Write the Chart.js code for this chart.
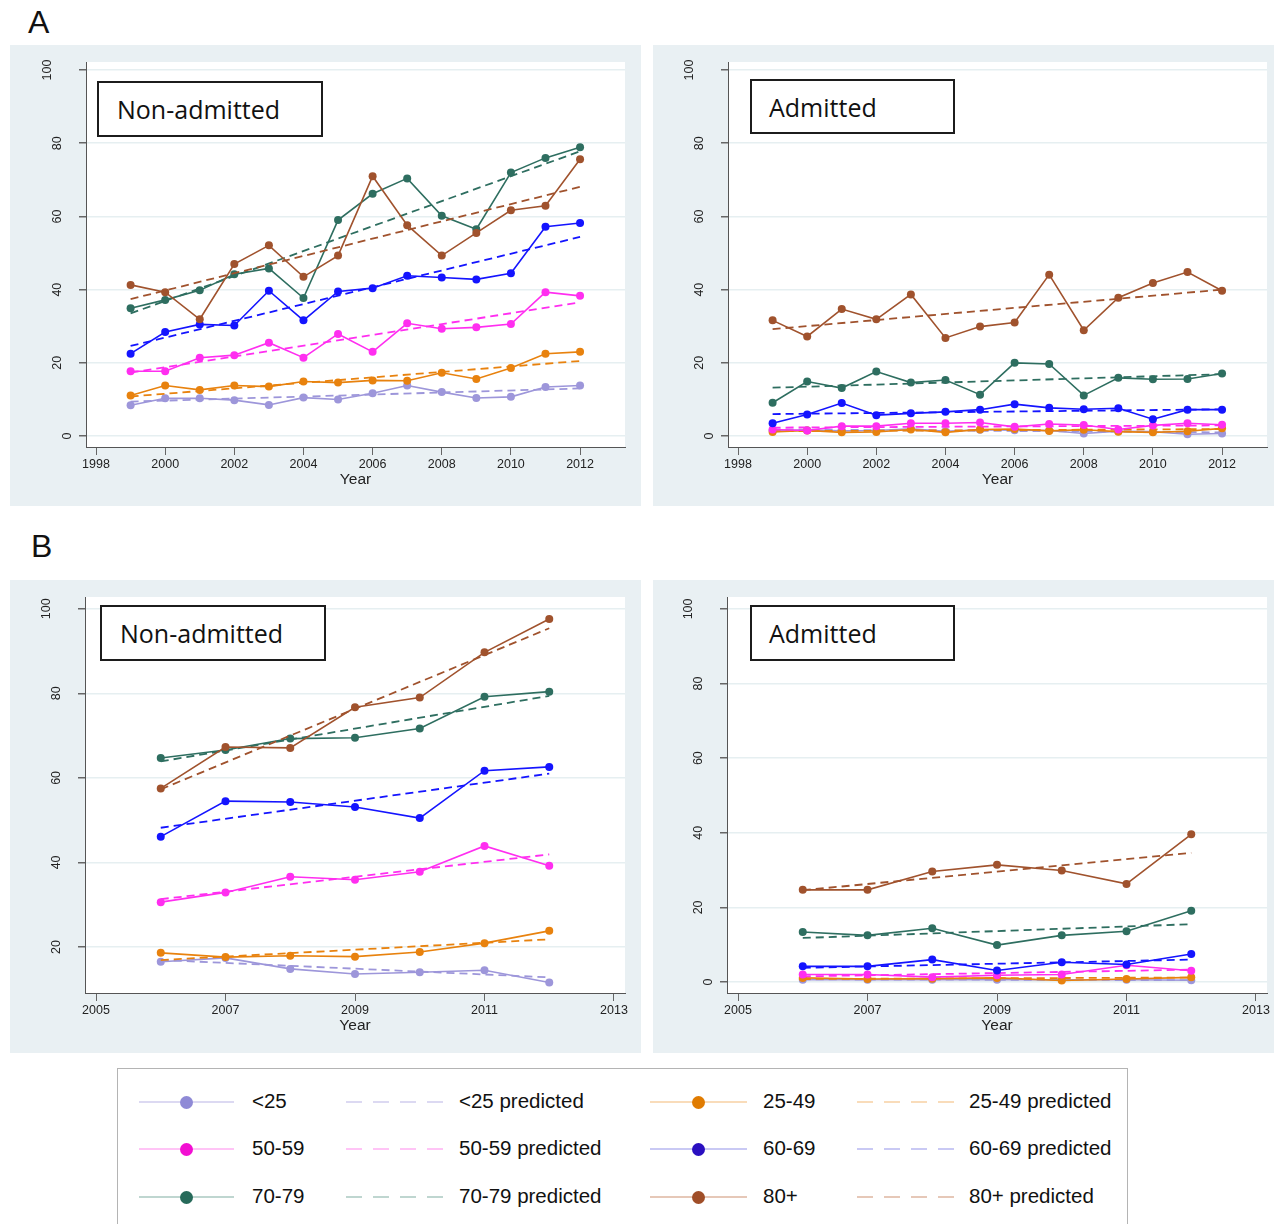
<!DOCTYPE html>
<html>
<head>
<meta charset="utf-8">
<title>Rates by age group</title>
<script src="https://cdn.jsdelivr.net/npm/chart.js@4.4.1/dist/chart.umd.min.js"></script>
<style>
  body { margin: 0; width: 1274px; height: 1224px; position: relative; overflow: hidden; background: #fff;
         font-family: "Liberation Sans", Arial, sans-serif; }
  .panel { position: absolute; background: #e9f0f3; }
  .panel canvas { position: absolute; left: 0; top: 0; }
  .letter { position: absolute; font-size: 32px; color: #111; line-height: 1; }
  .tag { position: absolute; box-sizing: border-box; border: 2px solid #1c1c1c; background: #fff;
         font-family: "Open Sans", sans-serif; font-size: 25px; color: #111; display: flex; align-items: center; }
  .legend { position: absolute; left: 117px; top: 1068px; width: 1011px; height: 170px; box-sizing: border-box;
            border: 1px solid #b4b4b4; background: #fff; }
  .lg-line { position: absolute; height: 2px; }
  .lg-dot { position: absolute; width: 13px; height: 13px; border-radius: 50%; }
  .lg-text { position: absolute; font-size: 20.5px; color: #111; line-height: 1; }
</style>
</head>
<body>
<div class="letter" style="left:28px;top:6px">A</div>
<div class="letter" style="left:31px;top:530px">B</div>

<div class="panel" style="left:10px;top:45px;width:631px;height:461px"><canvas id="cA1" width="631" height="461"></canvas></div>
<div class="panel" style="left:653px;top:45px;width:621px;height:461px"><canvas id="cA2" width="621" height="461"></canvas></div>
<div class="panel" style="left:10px;top:580px;width:631px;height:473px"><canvas id="cB1" width="631" height="473"></canvas></div>
<div class="panel" style="left:653px;top:580px;width:621px;height:473px"><canvas id="cB2" width="621" height="473"></canvas></div>

<div class="tag" style="left:97px;top:81px;width:226px;height:56px;padding-left:18px">Non-admitted</div>
<div class="tag" style="left:750px;top:79px;width:205px;height:55px;padding-left:17px">Admitted</div>
<div class="tag" style="left:100px;top:605px;width:226px;height:56px;padding-left:18px">Non-admitted</div>
<div class="tag" style="left:750px;top:605px;width:205px;height:56px;padding-left:17px">Admitted</div>

<div class="legend" id="legend"></div>

<script>
// ---- data ----
const groups = ["<25", "25-49", "50-59", "60-69", "70-79", "80+"];
const yearsA = [1999, 2000, 2001, 2002, 2003, 2004, 2005, 2006, 2007, 2008, 2009, 2010, 2011, 2012];
const yearsB = [2006, 2007, 2008, 2009, 2010, 2011, 2012];
const xTicksA = [1998, 2000, 2002, 2004, 2006, 2008, 2010, 2012];
const xTicksB = [2005, 2007, 2009, 2011, 2013];
const yTicksA = [0, 20, 40, 60, 80, 100];
const yTicksB1 = [20, 40, 60, 80, 100];
const yTicksB2 = [0, 20, 40, 60, 80, 100];

// A, non-admitted
const aNonLt25 = [8.4, 10.3, 10.3, 9.8, 8.5, 10.5, 10.0, 11.7, 13.8, 12.0, 10.4, 10.7, 13.4, 13.8];
const aNon2549 = [11.1, 13.8, 12.6, 13.8, 13.5, 14.9, 14.6, 15.2, 15.1, 17.3, 15.6, 18.6, 22.5, 23.0];
const aNon5059 = [17.7, 17.7, 21.4, 22.1, 25.5, 21.4, 27.9, 23.0, 30.8, 29.3, 29.7, 30.6, 39.3, 38.3];
const aNon6069 = [22.5, 28.4, 30.5, 30.2, 39.7, 31.6, 39.5, 40.4, 43.8, 43.3, 42.8, 44.5, 57.2, 58.2];
const aNon7079 = [34.9, 37.2, 39.8, 44.2, 45.8, 37.7, 59.0, 66.2, 70.4, 60.2, 56.5, 72.0, 76.0, 78.9];
const aNon80 = [41.3, 39.3, 31.9, 47.0, 52.1, 43.5, 49.3, 71.0, 57.6, 49.3, 55.5, 61.7, 62.9, 75.6];
// predicted (first year, last year)
const aNonPredLt25 = [9.4, 13.0];
const aNonPred2549 = [10.8, 20.5];
const aNonPred5059 = [17.3, 36.5];
const aNonPred6069 = [24.6, 54.4];
const aNonPred7079 = [33.5, 77.8];
const aNonPred80 = [37.4, 68.1];

// A, admitted
const aAdmLt25 = [1.5, 1.6, 1.4, 1.5, 2.0, 1.3, 1.7, 1.6, 1.5, 0.7, 1.3, 1.2, 0.5, 0.7];
const aAdm2549 = [1.1, 1.5, 1.0, 1.1, 1.8, 1.0, 1.8, 1.9, 1.4, 1.7, 1.2, 1.0, 1.3, 2.1];
const aAdm5059 = [1.8, 1.5, 2.7, 2.7, 3.5, 3.5, 3.7, 2.5, 3.3, 3.0, 1.8, 2.9, 3.5, 3.1];
const aAdm6069 = [3.5, 5.9, 9.0, 5.7, 6.2, 6.6, 7.2, 8.7, 7.7, 7.3, 7.6, 4.6, 7.2, 7.2];
const aAdm7079 = [9.1, 14.9, 13.1, 17.6, 14.6, 15.3, 11.3, 20.0, 19.7, 11.1, 15.9, 15.5, 15.6, 17.1];
const aAdm80 = [31.6, 27.2, 34.7, 31.9, 38.7, 26.8, 29.9, 31.0, 44.1, 28.9, 37.8, 41.8, 44.8, 39.7];
const aAdmPredLt25 = [1.8, 1.0];
const aAdmPred2549 = [1.3, 1.9];
const aAdmPred5059 = [2.3, 2.9];
const aAdmPred6069 = [6.0, 7.3];
const aAdmPred7079 = [13.2, 16.9];
const aAdmPred80 = [29.2, 40.0];

// B, non-admitted
const bNonLt25 = [16.5, 17.4, 14.8, 13.6, 14.0, 14.5, 11.6];
const bNon2549 = [18.6, 17.6, 17.9, 17.7, 18.8, 20.9, 23.8];
const bNon5059 = [30.6, 32.9, 36.6, 35.9, 37.8, 43.9, 39.2];
const bNon6069 = [46.1, 54.5, 54.3, 53.1, 50.5, 61.7, 62.6];
const bNon7079 = [64.7, 66.6, 69.3, 69.5, 71.7, 79.2, 80.4];
const bNon80 = [57.5, 67.3, 67.1, 76.7, 79.0, 89.7, 97.6];
const bNonPredLt25 = [16.9, 12.8];
const bNonPred2549 = [16.9, 21.8];
const bNonPred5059 = [31.3, 41.9];
const bNonPred6069 = [48.2, 61.0];
const bNonPred7079 = [63.9, 79.4];
const bNonPred80 = [57.3, 95.4];

// B, admitted
const bAdmLt25 = [0.6, 0.6, 0.6, 0.6, 0.6, 0.6, 0.45];
const bAdm2549 = [1.1, 0.8, 0.9, 1.1, 0.4, 0.8, 1.25];
const bAdm5059 = [2.0, 2.0, 1.3, 1.8, 2.0, 4.5, 3.0];
const bAdm6069 = [4.2, 4.2, 6.0, 3.1, 5.3, 4.7, 7.5];
const bAdm7079 = [13.4, 12.5, 14.4, 9.9, 12.5, 13.6, 19.1];
const bAdm80 = [24.7, 24.7, 29.6, 31.4, 29.9, 26.3, 39.6];
const bAdmPredLt25 = [0.7, 0.5];
const bAdmPred2549 = [0.8, 1.2];
const bAdmPred5059 = [1.5, 3.3];
const bAdmPred6069 = [3.8, 6.0];
const bAdmPred7079 = [11.8, 15.5];
const bAdmPred80 = [24.6, 34.6];

// ---- styles ----
const lineColors = ["#9d96da", "#e8820e", "#ff2ef0", "#1414ff", "#2e6e60", "#a0522d"];
const legendDots = ["#8f8ad6", "#e07b00", "#f20fd2", "#2a0fc0", "#276a5a", "#a04e28"];
const legendFaint = ["#dcd9f2", "#f9dcba", "#ffc4f6", "#c9c9f4", "#bfd6d0", "#e6c8b8"];

function buildDatasets(years, solid, pred) {
  const ds = [];
  const n = groups.length * 2;
  groups.forEach((g, i) => {
    ds.push({
      label: g,
      data: years.map((x, k) => ({ x: x, y: solid[i][k] })),
      borderColor: lineColors[i],
      backgroundColor: lineColors[i],
      borderWidth: 1.6,
      pointRadius: 4,
      pointBorderWidth: 0,
      pointBackgroundColor: lineColors[i],
      order: n - 2 * i
    });
    ds.push({
      label: g + " predicted",
      data: [{ x: years[0], y: pred[i][0] }, { x: years[years.length - 1], y: pred[i][1] }],
      borderColor: lineColors[i],
      borderWidth: 1.8,
      borderDash: [8, 5],
      pointRadius: 0,
      order: n - 2 * i - 1
    });
  });
  return ds;
}

// white plot region + rotated y labels
const plotPlugin = {
  id: "plotPlugin",
  beforeDraw(chart) {
    const a = chart.chartArea, ctx = chart.ctx;
    ctx.save();
    ctx.fillStyle = "#ffffff";
    ctx.fillRect(a.left, a.top, a.right - a.left, a.bottom - a.top);
    ctx.restore();
  },
  afterDraw(chart) {
    const ys = chart.scales.y, ctx = chart.ctx;
    ctx.save();
    ctx.fillStyle = "#222";
    ctx.font = '12.5px "Liberation Sans", Arial, sans-serif';
    ctx.textAlign = "center";
    ctx.textBaseline = "middle";
    ys.ticks.forEach(t => {
      const s = String(t.value);
      const px = ys.right - 18 - 10 * (s.length - 1);
      const py = ys.getPixelForValue(t.value);
      ctx.save();
      ctx.translate(px, py);
      ctx.rotate(-Math.PI / 2);
      ctx.fillText(s, 0, 0);
      ctx.restore();
    });
    ctx.restore();
  }
};

function makeChart(id, panel, area, xr, yr, xTicks, yTicks, years, solid, pred) {
  const xAxisH = 46;
  new Chart(document.getElementById(id), {
    type: "line",
    data: { datasets: buildDatasets(years, solid, pred) },
    options: {
      responsive: false,
      animation: false,
      devicePixelRatio: 1,
      layout: {
        padding: {
          left: 0,
          top: area[1] - panel[1],
          right: panel[0] + panel[2] - area[2],
          bottom: panel[1] + panel[3] - area[3] - xAxisH
        }
      },
      plugins: { legend: { display: false }, tooltip: { enabled: false } },
      scales: {
        x: {
          type: "linear",
          min: xr[0], max: xr[1],
          afterBuildTicks: s => { s.ticks = xTicks.map(v => ({ value: v })); },
          afterFit: s => { s.height = xAxisH; },
          grid: { drawOnChartArea: false, tickLength: 8, tickColor: "#666" },
          border: { color: "#555", width: 1 },
          ticks: {
            color: "#222", padding: 2, maxRotation: 0,
            font: { family: '"Liberation Sans", Arial, sans-serif', size: 12.5 },
            callback: v => String(v)
          },
          title: {
            display: true, text: "Year", color: "#222", padding: { top: 0, bottom: 4 },
            font: { family: '"Liberation Sans", Arial, sans-serif', size: 15.5 }
          }
        },
        y: {
          min: yr[0], max: yr[1],
          afterBuildTicks: s => { s.ticks = yTicks.map(v => ({ value: v })); },
          afterFit: s => { s.width = area[0] - panel[0]; },
          grid: { color: "#e6eff1", lineWidth: 1.5, tickLength: 7, tickColor: "#666" },
          border: { color: "#555", width: 1 },
          ticks: { display: false }
        }
      }
    },
    plugins: [plotPlugin]
  });
}

makeChart("cA1", [10, 45, 631, 461], [86, 62, 625, 447], [1997.71, 2013.3], [-3, 102.2], xTicksA, yTicksA, yearsA,
  [aNonLt25, aNon2549, aNon5059, aNon6069, aNon7079, aNon80],
  [aNonPredLt25, aNonPred2549, aNonPred5059, aNonPred6069, aNonPred7079, aNonPred80]);
makeChart("cA2", [653, 45, 621, 461], [728, 62, 1267, 447], [1997.71, 2013.3], [-3, 102.2], xTicksA, yTicksA, yearsA,
  [aAdmLt25, aAdm2549, aAdm5059, aAdm6069, aAdm7079, aAdm80],
  [aAdmPredLt25, aAdmPred2549, aAdmPred5059, aAdmPred6069, aAdmPred7079, aAdmPred80]);
makeChart("cB1", [10, 580, 631, 473], [85, 597, 625, 993], [2004.83, 2013.17], [9.1, 102.8], xTicksB, yTicksB1, yearsB,
  [bNonLt25, bNon2549, bNon5059, bNon6069, bNon7079, bNon80],
  [bNonPredLt25, bNonPred2549, bNonPred5059, bNonPred6069, bNonPred7079, bNonPred80]);
makeChart("cB2", [653, 580, 621, 473], [727, 597, 1267, 993], [2004.83, 2013.17], [-2.95, 103.2], xTicksB, yTicksB2, yearsB,
  [bAdmLt25, bAdm2549, bAdm5059, bAdm6069, bAdm7079, bAdm80],
  [bAdmPredLt25, bAdmPred2549, bAdmPred5059, bAdmPred6069, bAdmPred7079, bAdmPred80]);

// ---- legend (3 rows x 4 columns) ----
const legend = document.getElementById("legend");
const rowY = [33, 80, 128];
const colX = [[21, 116, 134], [228, 325, 341], [532, 629, 645], [739, 836, 851]];
groups.forEach((g, i) => {
  const row = Math.floor(i / 2);
  const pair = (i % 2) * 2;
  const cy = rowY[row];
  // solid entry
  const c1 = colX[pair];
  const l1 = document.createElement("div");
  l1.className = "lg-line";
  l1.style.cssText = `left:${c1[0]}px;top:${cy - 1}px;width:${c1[1] - c1[0]}px;background:${legendFaint[i]}`;
  legend.appendChild(l1);
  const d = document.createElement("div");
  d.className = "lg-dot";
  d.style.cssText = `left:${(c1[0] + c1[1]) / 2 - 6.5}px;top:${cy - 6.5}px;background:${legendDots[i]}`;
  legend.appendChild(d);
  const t1 = document.createElement("div");
  t1.className = "lg-text";
  t1.style.cssText = `left:${c1[2]}px;top:${cy - 11}px`;
  t1.textContent = g;
  legend.appendChild(t1);
  // predicted entry
  const c2 = colX[pair + 1];
  const l2 = document.createElement("div");
  l2.className = "lg-line";
  l2.style.cssText = `left:${c2[0]}px;top:${cy - 1}px;width:${c2[1] - c2[0]}px;` +
    `background:repeating-linear-gradient(to right, ${legendFaint[i]} 0 16px, transparent 16px 27px)`;
  legend.appendChild(l2);
  const t2 = document.createElement("div");
  t2.className = "lg-text";
  t2.style.cssText = `left:${c2[2]}px;top:${cy - 11}px`;
  t2.textContent = g + " predicted";
  legend.appendChild(t2);
});
</script>
</body>
</html>
